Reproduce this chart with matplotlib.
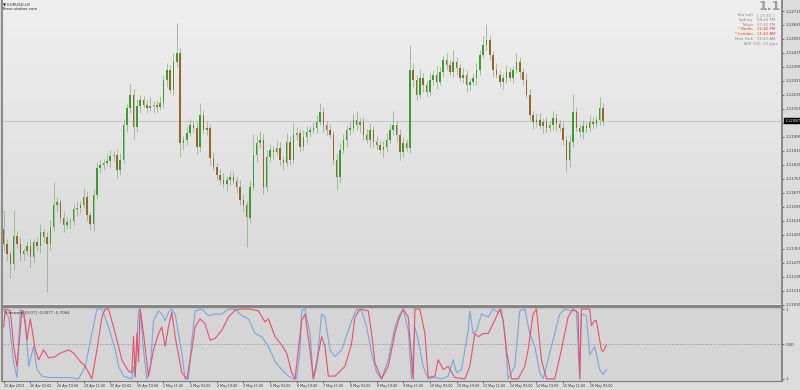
import numpy as np
import matplotlib
matplotlib.use("Agg")
import matplotlib.pyplot as plt
from matplotlib.colors import LinearSegmentedColormap
from matplotlib.patches import Rectangle
from matplotlib.transforms import blended_transform_factory

W, H = 800, 390

# EURUSD H1, drawn as 2-hour bars (hours since 25 Apr 11:00)
first_open = 1.11465
closes = [
    1.11379, 1.11322, 1.11265, 1.11425, 1.11379, 1.11322, 1.11339, 1.11368, 1.11305, 1.11391,
    1.11368, 1.11448, 1.11420, 1.11379, 1.11476, 1.11607, 1.11619, 1.11533, 1.11488, 1.11505,
    1.11511, 1.11579, 1.11590, 1.11607, 1.11653, 1.11545, 1.11493, 1.11659, 1.11819, 1.11836,
    1.11847, 1.11859, 1.11887, 1.11893, 1.11807, 1.11864, 1.12064, 1.12161, 1.12236, 1.12053,
    1.12173, 1.12207, 1.12178, 1.12161, 1.12173, 1.12178, 1.12167, 1.12190, 1.12321, 1.12378,
    1.12264, 1.12424, 1.12475, 1.11961, 1.11979, 1.12019, 1.12064, 1.12047, 1.11939, 1.12121,
    1.12036, 1.12047, 1.11876, 1.11824, 1.11779, 1.11750, 1.11722, 1.11750, 1.11767, 1.11744,
    1.11705, 1.11636, 1.11607, 1.11533, 1.11710, 1.11893, 1.11961, 1.11979, 1.11705, 1.11882,
    1.11922, 1.11910, 1.11933, 1.11864, 1.11847, 1.11967, 1.11864, 1.12007, 1.12019, 1.11939,
    1.11996, 1.12024, 1.12036, 1.12047, 1.12081, 1.12138, 1.12064, 1.12036, 1.12007, 1.11864,
    1.11762, 1.11922, 1.11979, 1.12036, 1.12047, 1.12093, 1.12064, 1.12081, 1.12007, 1.11979,
    1.12036, 1.11967, 1.11950, 1.11922, 1.11939, 1.11979, 1.12036, 1.12064, 1.12007, 1.11910,
    1.11961, 1.11933, 1.12378, 1.12321, 1.12236, 1.12333, 1.12293, 1.12253, 1.12321, 1.12350,
    1.12310, 1.12367, 1.12435, 1.12407, 1.12367, 1.12424, 1.12390, 1.12333, 1.12350, 1.12293,
    1.12310, 1.12333, 1.12378, 1.12464, 1.12521, 1.12549, 1.12464, 1.12378, 1.12350, 1.12310,
    1.12333, 1.12367, 1.12333, 1.12378, 1.12424, 1.12367, 1.12321, 1.12236, 1.12121, 1.12081,
    1.12093, 1.12059, 1.12081, 1.12047, 1.12064, 1.12104, 1.12070, 1.12047, 1.11979, 1.11864,
    1.11967, 1.12138, 1.12047, 1.12024, 1.12059, 1.12047, 1.12081, 1.12070, 1.12093, 1.12161,
    1.12087,
]
# wick lengths in pips above / below the body
wick_up = [
    11, 3, 2, 15, 3, 4, 2, 3, 4, 2, 3, 5, 2, 3, 4, 13, 3, 2, 4, 3,
    2, 3, 4, 2, 5, 3, 2, 4, 3, 3, 2, 4, 3, 2, 3, 4, 3, 2, 6, 3,
    4, 3, 2, 3, 5, 2, 3, 4, 3, 4, 3, 5, 17, 3, 2, 4, 3, 2, 3, 7,
    3, 4, 2, 3, 2, 3, 4, 2, 3, 3, 2, 4, 3, 2, 3, 12, 4, 5, 3, 4,
    3, 2, 4, 3, 2, 5, 3, 7, 3, 2, 4, 3, 2, 3, 4, 5, 3, 2, 3, 2,
    3, 4, 3, 2, 4, 3, 5, 2, 3, 3, 4, 2, 3, 2, 3, 4, 3, 8, 2, 3,
    3, 2, 14, 4, 3, 5, 3, 2, 4, 3, 5, 3, 2, 4, 3, 7, 3, 2, 4, 3,
    2, 3, 4, 3, 5, 9, 3, 2, 4, 3, 2, 4, 3, 2, 5, 3, 2, 4, 3, 2,
    3, 4, 2, 3, 2, 4, 3, 2, 3, 2, 4, 10, 3, 2, 3, 2, 4, 3, 2, 6,
    3,
]
wick_dn = [
    3, 4, 8, 3, 2, 4, 3, 2, 6, 3, 2, 4, 3, 27, 3, 2, 4, 3, 4, 2,
    3, 2, 4, 3, 2, 3, 3, 4, 2, 3, 3, 2, 4, 3, 5, 3, 2, 4, 3, 7,
    3, 4, 2, 3, 2, 4, 3, 2, 3, 4, 2, 3, 3, 8, 4, 3, 2, 3, 4, 3,
    2, 3, 4, 2, 3, 3, 2, 4, 3, 2, 3, 3, 4, 17, 3, 2, 4, 3, 4, 2,
    3, 4, 2, 3, 4, 2, 3, 2, 3, 3, 2, 4, 3, 2, 3, 2, 4, 3, 2, 3,
    7, 3, 2, 4, 3, 2, 3, 4, 3, 2, 4, 3, 3, 2, 4, 3, 2, 3, 4, 5,
    3, 2, 3, 4, 3, 2, 4, 3, 2, 3, 4, 2, 3, 3, 2, 3, 4, 2, 3, 4,
    3, 2, 4, 3, 2, 3, 3, 4, 2, 3, 4, 3, 2, 3, 2, 4, 3, 2, 3, 4,
    3, 2, 4, 3, 2, 3, 4, 2, 3, 7, 4, 3, 2, 3, 4, 3, 2, 3, 2, 3,
    3,
]
last_price = 1.12087

# indicator lines (hour, value)
red_h = [0, 1, 4, 6, 8, 11, 12, 14, 16, 19, 21, 24, 27, 31, 34, 39, 42, 46, 49, 51,
         53, 56, 59, 61, 63, 67, 71, 75, 77, 78, 79, 80, 81, 82, 84, 87, 90, 93, 95, 97,
         99, 101, 103, 107, 110, 113, 115, 118, 121, 124, 127, 131, 135, 139, 143, 148, 153, 157, 159, 163,
         167, 170, 173, 175, 177, 179, 181, 184, 186, 191, 193, 195, 199, 205, 209, 211, 214, 219, 221, 223,
         227, 231, 235, 237, 240, 243, 246, 247, 250, 253, 255, 259, 261, 264, 267, 271, 277, 280, 283, 285,
         288, 291, 294, 298, 300, 302, 305, 309, 313, 315, 318, 320, 323, 326, 331, 335, 339, 342, 345, 346,
         347, 352, 353, 355, 356, 359, 360, 362]
red_v = [0.49, 1.0, 0.95, -0.07, -0.64, 0.95, 0.95, 0.11, 0.72, -0.17, -0.45, -0.17, -0.40, -0.36, -0.26, -0.17, -0.26, -0.50, -0.64, -0.82,
         -1.0, -0.17, 0.77, 1.0, 1.0, 0.30, -0.45, -0.78, -0.82, 0.21, -0.92, 0.30, -0.50, 1.0, 0.30, -0.92, -0.17, 0.30, 0.49, -0.07,
         0.49, 0.91, 0.21, -0.82, -1.0, -0.17, 0.49, 0.72, 0.58, 0.11, 0.16, 0.39, 0.77, 0.97, 1.0, 1.0, 0.95, 0.63, 0.72, 0.21,
         -0.03, -0.26, -0.82, -1.0, -0.17, 0.67, 0.86, -0.17, -1.0, 0.21, -0.07, -0.92, -0.92, -0.64, 0.02, 0.77, 1.0, 0.95, 0.30, -0.54,
         -1.0, -0.64, 0.30, 0.67, 1.0, 0.77, -1.0, 1.0, 1.0, 0.30, -0.96, -0.92, -0.45, -0.73, -0.64, -0.96, -1.0, -0.64, 0.30, 0.21,
         0.30, 0.30, 0.58, 1.0, 0.67, -0.17, -1.0, -1.0, -0.64, -0.17, 0.86, 1.0, -0.45, -1.0, -1.0, -0.17, 0.77, 1.0, 0.90, -1.0,
         1.0, 1.0, 0.53, 0.67, 0.67, -0.17, -0.21, -0.03]
blue_h = [0, 3, 6, 8, 10, 13, 15, 18, 20, 23, 27, 39, 45, 49, 53, 56, 59, 63, 67, 69,
          72, 77, 78, 79, 81, 82, 84, 86, 88, 90, 93, 95, 97, 99, 101, 103, 107, 109, 111, 113,
          115, 119, 123, 127, 131, 135, 139, 143, 147, 151, 155, 159, 163, 167, 171, 174, 176, 178, 179, 181,
          184, 186, 188, 191, 193, 196, 199, 203, 209, 212, 215, 218, 221, 224, 227, 231, 235, 238, 240, 243,
          245, 247, 249, 252, 255, 259, 263, 267, 270, 272, 275, 279, 280, 282, 284, 287, 291, 294, 297, 299,
          301, 303, 307, 310, 313, 316, 319, 322, 324, 328, 331, 334, 337, 341, 344, 346, 347, 350, 352, 355,
          358, 360, 362]
blue_v = [1.0, 0.77, -0.54, -0.96, 1.0, 0.67, -0.64, -0.07, -0.73, -0.92, -0.96, -0.96, -1.0, -0.64, 0.30, 1.0, 1.0, 0.49, -0.17, -0.64,
          -0.92, -1.0, -0.64, -0.96, 0.95, 1.0, -0.17, -1.0, -0.73, 0.67, 0.95, 0.86, 0.67, 0.91, 1.0, 0.86, -0.26, -1.0, -1.0, 0.11,
          0.95, 1.0, 0.81, 0.86, 0.86, 1.0, 1.0, 0.81, 0.72, 0.30, 0.21, -0.07, -0.50, -0.73, -0.92, -1.0, -1.0, -0.17, 0.95, 1.0,
          0.30, -1.0, -0.64, 0.86, 0.77, -0.17, -0.36, -0.17, 0.67, 1.0, 0.95, 0.49, -0.26, -0.82, -1.0, -0.45, 0.49, 0.86, 1.0, 0.39,
          -1.0, 0.49, 0.11, -0.64, -1.0, -0.96, -1.0, -0.92, -0.45, -0.82, -0.73, 0.39, 0.95, 0.30, 0.39, 0.86, 0.77, 1.0, 0.91, 1.0,
          0.30, -1.0, -0.64, 0.95, 1.0, 0.30, -0.07, -0.82, -1.0, -0.26, 0.30, 0.86, 1.0, 0.95, 0.95, -1.0, 0.86, 0.81, -0.31, -0.07,
          -0.73, -0.87, -0.73]

price_ticks = [1.12715, 1.12635, 1.12555, 1.12475, 1.12395, 1.12315, 1.12235, 1.12155, 1.12075, 1.11995, 1.11915,
               1.11835, 1.11755, 1.11675, 1.11595, 1.11515, 1.11435, 1.11355, 1.11275, 1.11195, 1.11115, 1.11035]
time_ticks = [0, 16, 32, 48, 64, 80, 96, 112, 128, 144, 160, 176, 192, 208, 224, 240, 256, 272, 288, 304, 320, 336, 352]
time_labels = ["25 Apr 2019", "26 Apr 03:00", "26 Apr 19:00", "29 Apr 11:00", "30 Apr 03:00", "30 Apr 19:00",
               "1 May 11:00", "2 May 03:00", "2 May 19:00", "3 May 11:00", "6 May 03:00", "6 May 19:00",
               "7 May 11:00", "8 May 03:00", "8 May 19:00", "9 May 11:00", "10 May 03:00", "10 May 19:00",
               "13 May 11:00", "14 May 03:00", "14 May 19:00", "15 May 11:00", "16 May 03:00"]

info_labels = ["Bar Left", "Sydney", "Tokyo", "* Berlin", "* London", "New York"]
info_values = ["[ 17:30 ]", "08:42 PM", "07:42 PM", "12:42 PM", "11:42 AM", "06:42 AM"]
info_red = [False, False, False, True, True, False]

fs = 2.8
xlim = (-1, 467.5)

fig = plt.figure(figsize=(W / 100, H / 100), dpi=100, facecolor="#dcdcdc")


def px_axes(x0, y0, x1, y1):
    return fig.add_axes([x0 / W, 1 - y1 / H, (x1 - x0) / W, (y1 - y0) / H])


# ---- price panel ----
ax = px_axes(2, 0, 782, 304.5)
ax.set_xlim(*xlim)
ax.set_ylim(1.11038, 1.12778)
bg = LinearSegmentedColormap.from_list("bg", ["#efefef", "#d7d7d7"])
ax.imshow(np.linspace(0, 1, 256).reshape(-1, 1), cmap=bg, aspect="auto",
          extent=[xlim[0], xlim[1], 1.11038, 1.12778], zorder=0)

c = np.array(closes)
o = np.array([first_open] + closes[:-1])
hi = np.maximum(o, c) + np.array(wick_up) * 1e-4
lo = np.minimum(o, c) - np.array(wick_dn) * 1e-4
t = np.arange(len(c)) * 2
bull = c >= o

ax.axhline(last_price, color="#c2c2c2", lw=0.7, zorder=1)
ax.vlines(t, lo, hi, color="#86ad7c", lw=0.6, alpha=0.85, zorder=2)
ax.bar(t[bull], (c - o)[bull], bottom=o[bull], width=0.9, color="#3a9e2e", lw=0, zorder=3)
ax.bar(t[~bull], (c - o)[~bull], bottom=o[~bull], width=0.9, color="#98642e", lw=0, zorder=3)

ax.yaxis.tick_right()
ax.set_yticks(price_ticks)
ax.set_yticklabels([f"{p:.5f}" for p in price_ticks])
ax.tick_params(axis="y", labelsize=fs, length=1.5, width=0.5, pad=1, colors="#333333")
ax.set_xticks([])
for s in ["top", "bottom"]:
    ax.spines[s].set_visible(False)
ax.spines["left"].set_color("#8c8c8c")
ax.spines["left"].set_linewidth(1.5)
ax.spines["right"].set_color("#7a7a7a")
ax.spines["right"].set_linewidth(1.2)

tr = blended_transform_factory(ax.transAxes, ax.transData)
ax.text(1.003, last_price, f"{last_price:.5f}", transform=tr, ha="left", va="center",
        fontsize=fs, color="white", zorder=10, clip_on=False,
        bbox=dict(boxstyle="square,pad=0.2", fc="black", ec="black"))

# ---- indicator panel ----
ax2 = px_axes(2, 307, 782, 381)
ax2.set_facecolor("#d5d5d5")
ax2.set_xlim(*xlim)
ax2.set_ylim(-1.06, 1.06)
ax2.axhline(0, color="#8c8c8c", lw=0.5, ls=(0, (2, 2)))
ax2.plot(blue_h, blue_v, color="#7ba6d4", lw=0.8)
ax2.plot(red_h, red_v, color="#e5506f", lw=0.8)
ax2.yaxis.tick_right()
ax2.set_yticks([1, 0, -1])
ax2.set_yticklabels(["1", "0.00", "-1"])
ax2.set_xticks(time_ticks)
ax2.set_xticklabels(time_labels, ha="left")
ax2.tick_params(axis="y", labelsize=fs, length=1.5, width=0.5, pad=1, colors="#333333")
ax2.tick_params(axis="x", labelsize=2.3, length=1.5, width=0.5, pad=1, colors="#333333")
ax2.spines["top"].set_visible(False)
ax2.spines["left"].set_color("#8c8c8c")
ax2.spines["left"].set_linewidth(1.5)
ax2.spines["right"].set_color("#7a7a7a")
ax2.spines["right"].set_linewidth(1.2)
ax2.spines["bottom"].set_color("#7a7a7a")
ax2.spines["bottom"].set_linewidth(0.8)
ax2.text(3 / 780, 0.96, "Sinewave [0.07] -0.0077 -0.7064", transform=ax2.transAxes,
         fontsize=fs, color="#333333", va="top", ha="left")

# separator between panels
fig.patches.append(Rectangle((2 / W, 1 - 307 / H), 780 / W, 2.5 / H, transform=fig.transFigure,
                             color="#858585", zorder=5))

# ---- header texts ----
fig.text(3 / W, 1 - 4.5 / H, "\u25bc EURUSD,H1", fontsize=fs, color="#222222", va="center")
fig.text(3 / W, 1 - 9.5 / H, "Forex-station.com", fontsize=fs, color="#222222", va="center")

fig.text(770 / W, 1 - 6.5 / H, "1.1", fontsize=9, fontweight="bold", color="#9c9c9c",
         ha="center", va="center")
rows_y = [15.5, 20, 25, 29.5, 34, 39]
for lbl, val, red, y in zip(info_labels, info_values, info_red, rows_y):
    col = "#ff2a2a" if red else "#8a8a8a"
    fig.text(753 / W, 1 - y / H, lbl, fontsize=fs, color=col, ha="right", va="center")
    fig.text(757 / W, 1 - y / H, val, fontsize=fs, color=col, ha="left", va="center")
fig.text(778 / W, 1 - 43.5 / H, "ATR (20): 13 pips", fontsize=fs, color="#8a8a8a",
         ha="right", va="center")

fig.savefig("out.png", dpi=100, facecolor=fig.get_facecolor())
